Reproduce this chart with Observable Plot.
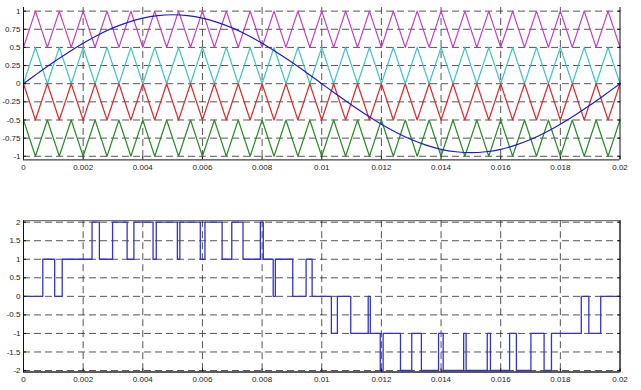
<!DOCTYPE html>
<html>
<head>
<meta charset="utf-8">
<script src="https://cdn.jsdelivr.net/npm/d3@7"></script>
<script src="https://cdn.jsdelivr.net/npm/@observablehq/plot@0.6"></script>
<style>
  body { margin: 0; background: #fff; }
  #chart svg { display: block; }
</style>
</head>
<body>
<div id="chart"></div>
<script>
// ---- tick values and labels ----
const xTicks = [0, 0.002, 0.004, 0.006, 0.008, 0.01, 0.012, 0.014, 0.016, 0.018, 0.02];
const xTickLabels = ["0", "0.002", "0.004", "0.006", "0.008", "0.01", "0.012", "0.014", "0.016", "0.018", "0.02"];
const topYTicks = [-1, -0.75, -0.5, -0.25, 0, 0.25, 0.5, 0.75, 1];
const topYTickLabels = ["-1", "-0.75", "-0.5", "-0.25", "0", "0.25", "0.5", "0.75", "1"];
const botYTicks = [-2, -1.5, -1, -0.5, 0, 0.5, 1, 1.5, 2];
const botYTickLabels = ["-2", "-1.5", "-1", "-0.5", "0", "0.5", "1", "1.5", "2"];

// ---- carrier triangle vertices ----
const carrierTime = [0,0.0004,0.0008,0.0012,0.0016,0.002,0.0024,0.0028,0.0032,0.0036,0.004,0.0044,0.0048,0.0052,0.0056,0.006,0.0064,0.0068,0.0072,0.0076,0.008,0.0084,0.0088,0.0092,0.0096,0.01,0.0104,0.0108,0.0112,0.0116,0.012,0.0124,0.0128,0.0132,0.0136,0.014,0.0144,0.0148,0.0152,0.0156,0.016,0.0164,0.0168,0.0172,0.0176,0.018,0.0184,0.0188,0.0192,0.0196,0.02];
const carrierMagenta = [0.5,1,0.5,1,0.5,1,0.5,1,0.5,1,0.5,1,0.5,1,0.5,1,0.5,1,0.5,1,0.5,1,0.5,1,0.5,1,0.5,1,0.5,1,0.5,1,0.5,1,0.5,1,0.5,1,0.5,1,0.5,1,0.5,1,0.5,1,0.5,1,0.5,1,0.5];
const carrierCyan = [0,0.5,0,0.5,0,0.5,0,0.5,0,0.5,0,0.5,0,0.5,0,0.5,0,0.5,0,0.5,0,0.5,0,0.5,0,0.5,0,0.5,0,0.5,0,0.5,0,0.5,0,0.5,0,0.5,0,0.5,0,0.5,0,0.5,0,0.5,0,0.5,0,0.5,0];
const carrierRed = [0,-0.5,0,-0.5,0,-0.5,0,-0.5,0,-0.5,0,-0.5,0,-0.5,0,-0.5,0,-0.5,0,-0.5,0,-0.5,0,-0.5,0,-0.5,0,-0.5,0,-0.5,0,-0.5,0,-0.5,0,-0.5,0,-0.5,0,-0.5,0,-0.5,0,-0.5,0,-0.5,0,-0.5,0,-0.5,0];
const carrierGreen = [-0.5,-1,-0.5,-1,-0.5,-1,-0.5,-1,-0.5,-1,-0.5,-1,-0.5,-1,-0.5,-1,-0.5,-1,-0.5,-1,-0.5,-1,-0.5,-1,-0.5,-1,-0.5,-1,-0.5,-1,-0.5,-1,-0.5,-1,-0.5,-1,-0.5,-1,-0.5,-1,-0.5,-1,-0.5,-1,-0.5,-1,-0.5,-1,-0.5,-1,-0.5];

// ---- reference sine ----
const sineTime = [0,0.0005,0.001,0.0015,0.002,0.0025,0.003,0.0035,0.004,0.0045,0.005,0.0055,0.006,0.0065,0.007,0.0075,0.008,0.0085,0.009,0.0095,0.01,0.0105,0.011,0.0115,0.012,0.0125,0.013,0.0135,0.014,0.0145,0.015,0.0155,0.016,0.0165,0.017,0.0175,0.018,0.0185,0.019,0.0195,0.02];
const sineValue = [0,0.149,0.294,0.431,0.558,0.672,0.769,0.846,0.904,0.938,0.95,0.938,0.904,0.846,0.769,0.672,0.558,0.431,0.294,0.149,0,-0.149,-0.294,-0.431,-0.558,-0.672,-0.769,-0.846,-0.904,-0.938,-0.95,-0.938,-0.904,-0.846,-0.769,-0.672,-0.558,-0.431,-0.294,-0.149,0];

// ---- multilevel output (switching instants and levels) ----
const stepTime = [0,0.000647,0.001045,0.001298,0.002298,0.002545,0.002987,0.003474,0.003702,0.004344,0.004451,0.005159,0.005242,0.005928,0.006084,0.006659,0.006983,0.00736,0.007942,0.00804,0.008372,0.008444,0.009028,0.009475,0.009677,0.010323,0.010525,0.010972,0.011557,0.011628,0.011961,0.012058,0.01264,0.013017,0.013341,0.013916,0.014071,0.014758,0.014841,0.015549,0.015656,0.016298,0.016526,0.017013,0.017455,0.017702,0.018702,0.018955,0.019353,0.02];
const stepLevel = [0,1,0,1,2,1,2,1,2,1,2,1,2,1,2,1,2,1,2,1,0,1,0,1,0,-1,0,-1,0,-1,-2,-1,-2,-1,-2,-1,-2,-1,-2,-1,-2,-1,-2,-1,-2,-1,0,-1,0,0];

const xDomain = [0, 0.02];
const topYDomain = [-1.05, 1.05];
const botYDomain = [-2.04, 2.04];

const carrierSeries = [
  {values: carrierMagenta, color: "#c23cc2"},
  {values: carrierCyan, color: "#3cc4c4"},
  {values: carrierRed, color: "#e0282c"},
  {values: carrierGreen, color: "#2a8a2a"}
];
const carrierRows = carrierSeries.flatMap(s =>
  carrierTime.map((t, i) => ({t, v: s.values[i], color: s.color})));
const sineRows = sineTime.map((t, i) => ({t, v: sineValue[i]}));
const stepRows = stepTime.map((t, i) => ({t, v: stepLevel[i]}));

const font = "'Liberation Sans', Arial, sans-serif";
const gridStyle = {stroke: "#2a2a2a", strokeOpacity: 0.8, strokeDasharray: "7,4", strokeWidth: 1};
const lab = (ticks, labels) => d => labels[ticks.indexOf(d)];

const topPlot = Plot.plot({
  width: 641, height: 190,
  marginLeft: 23, marginRight: 21.5, marginTop: 7, marginBottom: 30.6,
  style: {fontFamily: font, fontSize: "8px", color: "#222", background: "#fff"},
  x: {domain: xDomain},
  y: {domain: topYDomain},
  marks: [
    Plot.ruleX(xTicks.slice(1, -1), gridStyle),
    Plot.ruleY(topYTicks, gridStyle),
    Plot.line(carrierRows, {x: "t", y: "v", z: "color", stroke: "color", strokeWidth: 1.2}),
    Plot.line(sineRows, {x: "t", y: "v", curve: "catmull-rom", stroke: "#1c1cc8", strokeWidth: 1.2}),
    Plot.ruleX(xDomain, {stroke: "#111", strokeWidth: 1}),
    Plot.ruleY([topYDomain[0]], {stroke: "#111", strokeWidth: 1}),
    Plot.axisX(xTicks, {tickSize: 3, dy: -3, text: null, label: null, stroke: "#111"}),
    Plot.axisX(xTicks, {tickSize: 0, tickPadding: 4, tickFormat: lab(xTicks, xTickLabels), label: null}),
    Plot.axisY(topYTicks, {anchor: "left", tickSize: 3, dx: 3, text: null, label: null, stroke: "#111"}),
    Plot.axisY(topYTicks, {anchor: "right", tickSize: 3, dx: -3, text: null, label: null, stroke: "#111"}),
    Plot.axisY(topYTicks, {anchor: "left", tickSize: 0, tickPadding: 3, tickFormat: lab(topYTicks, topYTickLabels), label: null})
  ]
});

const botPlot = Plot.plot({
  width: 641, height: 200,
  marginLeft: 23, marginRight: 21.5, marginTop: 30.2, marginBottom: 18.5,
  style: {fontFamily: font, fontSize: "8px", color: "#222", background: "#fff"},
  x: {domain: xDomain},
  y: {domain: botYDomain},
  marks: [
    Plot.ruleX(xTicks.slice(1, -1), gridStyle),
    Plot.ruleY(botYTicks, gridStyle),
    Plot.line(stepRows, {x: "t", y: "v", curve: "step-after", stroke: "#3434cc", strokeWidth: 1.3}),
    Plot.frame({stroke: "#555", strokeWidth: 1}),
    Plot.ruleX(xDomain, {stroke: "#111", strokeWidth: 1}),
    Plot.ruleY([botYDomain[0]], {stroke: "#111", strokeWidth: 1}),
    Plot.axisX(xTicks, {tickSize: 3, dy: -3, text: null, label: null, stroke: "#111"}),
    Plot.axisX(xTicks, {tickSize: 0, tickPadding: 4, tickFormat: lab(xTicks, xTickLabels), label: null}),
    Plot.axisY(botYTicks, {anchor: "left", tickSize: 3, dx: 3, text: null, label: null, stroke: "#111"}),
    Plot.axisY(botYTicks, {anchor: "right", tickSize: 3, dx: -3, text: null, label: null, stroke: "#111"}),
    Plot.axisY(botYTicks, {anchor: "left", tickSize: 0, tickPadding: 3, tickFormat: lab(botYTicks, botYTickLabels), label: null})
  ]
});

const chart = document.getElementById("chart");
chart.appendChild(topPlot);
chart.appendChild(botPlot);
</script>
</body>
</html>
